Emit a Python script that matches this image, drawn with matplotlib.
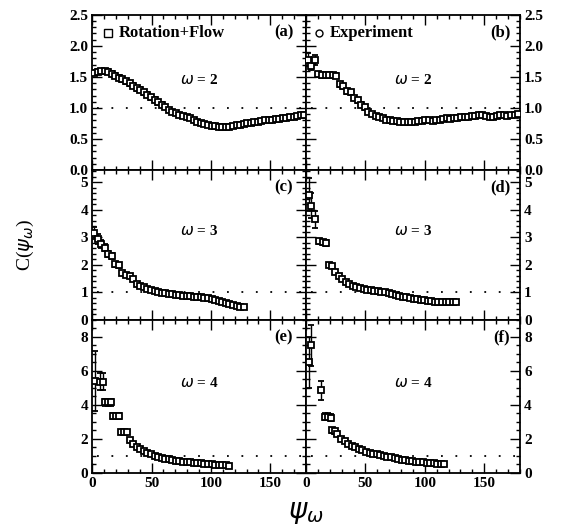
import numpy as np
import matplotlib
matplotlib.use('Agg')
import matplotlib.pyplot as plt
from matplotlib.ticker import MultipleLocator

# --- data -----------------------------------------------------------------
# (a) Rotation+Flow, omega = 2
a_x = np.arange(1.5, 180, 3)
a_y = [1.57, 1.58, 1.59, 1.59, 1.58, 1.55, 1.52, 1.49, 1.46, 1.43,
       1.40, 1.36, 1.32, 1.29, 1.25, 1.21, 1.17, 1.13, 1.09, 1.05,
       1.01, 0.97, 0.94, 0.91, 0.89, 0.87, 0.85, 0.83, 0.81, 0.78,
       0.76, 0.74, 0.72, 0.71, 0.71, 0.70, 0.70, 0.69, 0.70, 0.71,
       0.72, 0.73, 0.74, 0.75, 0.76, 0.77, 0.78, 0.79, 0.80, 0.80,
       0.81, 0.82, 0.82, 0.83, 0.84, 0.85, 0.86, 0.87, 0.88, 0.89]
a_err = [0.04] * 20 + [0.03] * 10 + [0.02] * 30

# (b) Experiment, omega = 2
b_x = np.arange(1.5, 180, 3)
b_y = [1.78, 1.67, 1.78, 1.54, 1.53, 1.53, 1.53, 1.53, 1.52, 1.38,
       1.35, 1.27, 1.25, 1.16, 1.12, 1.05, 1.01, 0.93, 0.90, 0.87,
       0.85, 0.83, 0.81, 0.80, 0.79, 0.79, 0.78, 0.78, 0.78, 0.78,
       0.78, 0.79, 0.79, 0.80, 0.80, 0.79, 0.80, 0.81, 0.82, 0.83,
       0.82, 0.83, 0.84, 0.85, 0.86, 0.86, 0.87, 0.87, 0.88, 0.88,
       0.87, 0.86, 0.86, 0.87, 0.88, 0.88, 0.87, 0.88, 0.89, 0.90]
b_err = [0.10, 0.06, 0.08] + [0.04] * 14 + [0.025] * 43

# (c) Rotation+Flow, omega = 3
c_x = np.arange(1.5, 128, 3)
c_y = [3.15, 2.95, 2.75, 2.62, 2.40, 2.32, 2.02, 1.98, 1.72, 1.65,
       1.58, 1.48, 1.30, 1.25, 1.20, 1.13, 1.08, 1.05, 1.02, 0.99,
       0.97, 0.95, 0.93, 0.91, 0.90, 0.88, 0.87, 0.86, 0.85, 0.83,
       0.82, 0.80, 0.78, 0.76, 0.73, 0.69, 0.65, 0.61, 0.57, 0.53,
       0.50, 0.48, 0.46]
c_err = [0.22, 0.18, 0.15, 0.13, 0.12, 0.10, 0.09, 0.08] + [0.04] * 35

# (d) Experiment, omega = 3
d_x_head = [2.5, 4.5, 7.5, 11, 14, 17, 19.5, 22]
d_y_head = [4.55, 4.15, 3.65, 2.85, 2.82, 2.80, 2.00, 1.95]
d_err_head = [0.6, 0.45, 0.3, 0.1, 0.1, 0.1, 0.08, 0.08]
d_x_tail = np.arange(24.5, 128, 3)
d_y_tail = [1.75, 1.60, 1.48, 1.38, 1.30, 1.24, 1.19, 1.15, 1.12, 1.10,
            1.08, 1.06, 1.04, 1.02, 1.00, 0.97, 0.94, 0.91, 0.88, 0.85,
            0.82, 0.80, 0.77, 0.75, 0.73, 0.71, 0.69, 0.67, 0.66, 0.65,
            0.64, 0.64, 0.64, 0.65, 0.66]
d_err_tail = [0.04] * 35

# (e) Rotation+Flow, omega = 4
e_x_head = [2, 6.5, 9.5, 11, 13.5, 16, 17.5, 20, 22.5, 24, 26.5, 29]
e_y_head = [5.4, 5.35, 5.35, 4.15, 4.15, 4.15, 3.35, 3.35, 3.35, 2.4, 2.4, 2.4]
e_err_head = [1.75, 0.5, 0.5, 0.2, 0.2, 0.2, 0.15, 0.15, 0.15, 0.12, 0.12, 0.12]
e_x_tail = np.arange(31.5, 116, 3)
e_y_tail = [1.92, 1.72, 1.55, 1.40, 1.28, 1.18, 1.09, 1.01, 0.95, 0.89,
            0.84, 0.80, 0.76, 0.72, 0.69, 0.67, 0.65, 0.62, 0.60, 0.58,
            0.56, 0.54, 0.52, 0.50, 0.48, 0.47, 0.45, 0.44, 0.43]
e_err_tail = [0.06] * 29

# (f) Experiment, omega = 4
f_x_head = [2.5, 4.5, 13, 16, 18.5, 21, 21.5, 24, 26.5]
f_y_head = [6.5, 7.5, 4.85, 3.3, 3.3, 3.25, 2.5, 2.45, 2.3]
f_err_head = [1.5, 1.2, 0.55, 0.2, 0.2, 0.2, 0.15, 0.15, 0.12]
f_x_tail = np.arange(29.5, 119, 3)
f_y_tail = [1.97, 1.85, 1.72, 1.60, 1.50, 1.41, 1.33, 1.26, 1.20, 1.14,
            1.09, 1.04, 0.99, 0.95, 0.91, 0.87, 0.83, 0.79, 0.76, 0.73,
            0.70, 0.67, 0.64, 0.62, 0.60, 0.58, 0.56, 0.54, 0.52, 0.51]
f_err_tail = [0.06] * 30

panel_tags = ['(a)', '(b)', '(c)', '(d)', '(e)', '(f)']
omegas = [2, 3, 4]
row_ylim = [2.5, 5.45, 9.0]
row_major = [0.5, 1, 2]
row_minor = [0.1, 0.2, 0.5]
row_ytick_fmt = ['{:.1f}', '{:.0f}', '{:.0f}']

series = [
    (a_x, a_y, a_err),
    (b_x, b_y, b_err),
    (c_x, c_y, c_err),
    (np.concatenate([d_x_head, d_x_tail]), d_y_head + d_y_tail, d_err_head + d_err_tail),
    (np.concatenate([e_x_head, e_x_tail]), e_y_head + e_y_tail, e_err_head + e_err_tail),
    (np.concatenate([f_x_head, f_x_tail]), f_y_head + f_y_tail, f_err_head + f_err_tail),
]

plt.rcParams['font.family'] = 'Liberation Serif'

fig = plt.figure(figsize=(5.62, 5.32), dpi=100)
gs = fig.add_gridspec(3, 2, left=0.164, right=0.925, top=0.972, bottom=0.111,
                      hspace=0, wspace=0, height_ratios=[155, 150, 153])

for i in range(6):
    row, col = divmod(i, 2)
    ax = fig.add_subplot(gs[row, col])
    x, y, err = series[i]
    ax.errorbar(x, y, yerr=err, fmt='s', ms=4.6, mfc='white', mec='black',
                mew=1.3, ecolor='black', elinewidth=1.0, capsize=2.4,
                capthick=1.0, zorder=3)
    ax.hlines(1.0, 4, 180, colors='black', linestyles=(0, (1, 7)), lw=1.3)

    ax.set_xlim(0, 180)
    ax.set_ylim(0, row_ylim[row])
    ax.xaxis.set_major_locator(MultipleLocator(50))
    ax.xaxis.set_minor_locator(MultipleLocator(10))
    ax.yaxis.set_major_locator(MultipleLocator(row_major[row]))
    ax.yaxis.set_minor_locator(MultipleLocator(row_minor[row]))
    ax.tick_params(which='both', direction='in', top=True, right=True,
                   left=True, bottom=True, width=1.0)
    ax.tick_params(which='major', length=7)
    ax.tick_params(which='minor', length=3)
    ax.tick_params(labelbottom=(row == 2), labelleft=(col == 0),
                   labelright=(col == 1), labelsize=11, pad=3)
    ticks = np.arange(0, row_ylim[row] + 1e-6, row_major[row])
    ax.set_yticks(ticks)
    ax.set_yticklabels([row_ytick_fmt[row].format(t) for t in ticks],
                       fontweight='bold')
    if row == 2:
        ax.set_xticks([0, 50, 100, 150])
        ax.set_xticklabels(['0', '50', '100', '150'], fontweight='bold')
    for sp in ax.spines.values():
        sp.set_linewidth(1.3)

    ax.text(0.5, 0.58 if row == 0 else 0.59, r'$\omega$ = %d' % omegas[row],
            transform=ax.transAxes, ha='center', va='center', fontsize=11,
            fontweight='bold')
    ax.text(0.94 if col == 0 else 0.955, 0.885, panel_tags[i],
            transform=ax.transAxes, ha='right', va='center', fontsize=12,
            fontweight='bold')

    if i == 0:
        ax.plot([0.075], [0.885], marker='s', ms=5.5, mfc='white', mec='black',
                mew=1.0, transform=ax.transAxes)
        ax.text(0.125, 0.885, 'Rotation+Flow', transform=ax.transAxes,
                ha='left', va='center', fontsize=12, fontweight='bold')
    if i == 1:
        ax.plot([0.06], [0.885], marker='o', ms=5, mfc='white', mec='black',
                mew=1.0, transform=ax.transAxes)
        ax.text(0.11, 0.885, 'Experiment', transform=ax.transAxes,
                ha='left', va='center', fontsize=12, fontweight='bold')

fig.text(0.045, 0.54, r'C($\psi_\omega$)', rotation=90, ha='center',
         va='center', fontsize=14)
fig.text(0.545, 0.035, r'$\psi_\omega$', ha='center', va='center', fontsize=20)

fig.savefig('out.png', dpi=100)
